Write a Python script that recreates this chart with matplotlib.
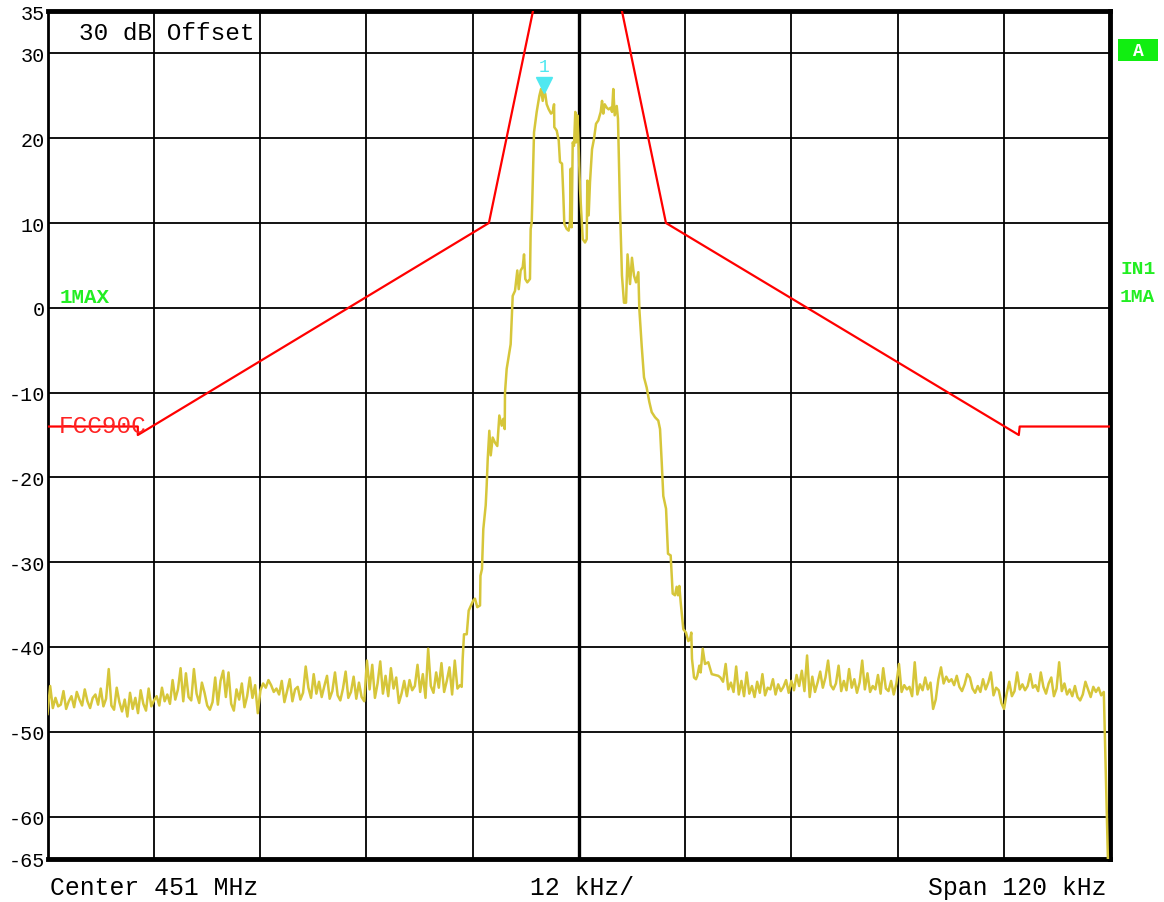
import matplotlib
matplotlib.use("Agg")
import matplotlib.pyplot as plt
from matplotlib.patches import Rectangle
import numpy as np

# spectrum analyzer screen: center 451 MHz, span 120 kHz, 30 dB ref offset
MONO = ["Liberation Mono", "DejaVu Sans Mono"]

# noise floor left of the carrier (-60 .. -13.4 kHz), dB
left_noise_db = [
    -47.9, -44.6, -47.2, -46.0, -47.0, -46.8, -45.2, -47.3, -46.4, -45.8,
    -47.1, -45.3, -46.2, -46.9, -45.0, -46.4, -47.2, -46.0, -45.6, -46.8,
    -44.9, -47.0, -46.1, -42.6, -46.9, -47.4, -44.8, -46.5, -47.6, -46.2,
    -48.2, -45.4, -47.3, -46.0, -47.8, -45.1, -46.7, -47.5, -44.9, -47.0,
    -46.3, -45.8, -46.9, -44.8, -46.4, -45.6, -46.7, -43.9, -46.2, -45.0,
    -42.5, -46.4, -43.1, -45.9, -46.3, -42.6, -45.5, -46.6, -44.2, -45.4,
    -46.9, -47.4, -46.5, -43.6, -46.8, -44.0, -42.8, -45.9, -43.0, -46.7,
    -47.5, -45.0, -46.2, -44.3, -47.1, -45.8, -43.6, -46.0, -44.5, -47.8,
    -45.1, -44.3, -44.8, -43.9, -44.5, -45.3, -44.9, -45.6, -44.0, -46.5,
    -45.2, -43.8, -46.4, -45.0, -44.7, -46.2, -45.4, -42.3, -44.8, -46.0,
    -43.2, -45.5, -44.1, -45.9, -44.6, -43.4, -46.1, -45.2, -43.0, -45.7,
    -46.3, -44.9, -42.9, -46.0, -45.3, -43.5, -46.1, -44.2, -45.9, -46.4,
    -41.6, -45.0, -42.1, -46.0, -44.3, -41.7, -45.5, -43.4, -45.8, -42.5,
    -44.9, -43.6, -46.6, -45.5, -44.0, -45.8, -43.9, -45.1, -44.6, -42.1,
    -45.3, -43.2, -46.0, -40.2, -44.6, -45.4, -43.0, -44.8, -41.9, -45.3,
    -44.0, -42.4, -45.6, -41.6, -44.9, -44.5,
]

# occupied band, read point by point (kHz offset, dB)
signal_khz = [
    -13.22, -13.11, -12.96, -12.65, -12.43, -11.91, -11.72, -11.46, -11.15, -11.10,
    -10.93, -10.78, -10.51, -10.40, -10.28, -10.10, -9.94, -9.72, -9.46, -9.20,
    -8.97, -8.70, -8.52, -8.36, -8.33, -8.14, -7.69, -7.57, -7.46, -7.20,
    -6.94, -6.78, -6.56, -6.33, -6.18, -6.04, -5.81, -5.51, -5.43, -5.31,
    -5.05, -4.75, -4.45, -4.26, -4.07, -3.92, -3.78, -3.62, -3.39, -3.13,
    -2.94, -2.79, -2.76, -2.49, -2.26, -2.12, -1.89, -1.74, -1.63, -1.36,
    -1.14, -0.99, -0.91, -0.80, -0.68, -0.54, -0.39, -0.31, -0.16, -0.05,
    0.14, 0.45, 0.71, 0.90, 0.97, 1.12, 1.27, 1.50, 1.72, 1.95,
    2.21, 2.48, 2.63, 2.77, 2.93, 3.16, 3.38, 3.61, 3.76, 3.90,
    4.06, 4.29, 4.43, 4.66, 4.88, 5.11, 5.34, 5.51, 5.79, 6.01,
    6.24, 6.47, 6.73, 6.84, 7.11, 7.37, 7.67, 7.97, 8.24, 8.61,
    8.98, 9.18, 9.37, 9.55, 9.86, 10.08, 10.38, 10.61, 10.87, 11.06,
    11.21, 11.36, 11.51, 11.81, 12.11, 12.37, 12.57, 12.71, 12.79, 13.02,
    13.24, 13.39, 13.62, 13.77, 14.00, 14.26, 14.63, 15.02, 15.76,
]
signal_db = [
    -44.7, -41.4, -38.5, -38.5, -35.7, -34.5, -34.3, -35.3, -35.1, -31.6,
    -30.8, -26.1, -23.3, -21.0, -17.8, -14.5, -17.4, -15.3, -15.9, -16.3,
    -12.7, -13.9, -13.1, -14.3, -10.0, -7.2, -4.3, -1.3, 1.4, 2.0,
    4.4, 2.2, 4.4, 4.8, 6.3, 3.4, 3.0, 3.4, 9.3, 10.1,
    20.7, 23.1, 25.0, 25.8, 24.4, 25.6, 25.2, 24.0, 23.4, 22.9,
    23.1, 24.0, 21.3, 20.9, 19.7, 17.2, 17.0, 13.2, 9.9, 9.3,
    9.1, 10.1, 16.4, 9.5, 19.5, 19.1, 23.1, 19.5, 22.7, 20.3,
    14.0, 8.1, 7.7, 8.1, 15.0, 10.9, 14.8, 18.7, 19.9, 21.7,
    22.1, 23.1, 24.4, 22.9, 24.0, 23.6, 23.4, 23.6, 23.1, 25.8,
    22.7, 23.8, 22.3, 11.7, 3.8, 0.6, 0.6, 6.3, 2.8, 5.9,
    3.8, 3.0, 4.2, -0.1, -4.5, -8.2, -9.4, -11.1, -12.3, -12.9,
    -13.3, -14.3, -18.2, -22.2, -23.7, -29.0, -29.2, -33.7, -33.9, -32.9,
    -33.9, -32.8, -34.7, -37.9, -38.3, -39.3, -39.1, -38.3, -41.4, -43.6,
    -43.8, -43.4, -42.2, -43.0, -40.2, -42.0, -41.8, -43.2, -43.4,
]

# noise floor right of the carrier (16 .. 59.3 kHz), dB
right_noise_db = [
    -43.6, -44.1, -42.0, -45.0, -44.2, -45.3, -42.3, -45.6, -44.0, -45.8,
    -43.0, -45.5, -44.6, -45.9, -44.1, -45.4, -43.2, -45.7, -44.8, -45.0,
    -43.8, -45.6, -44.4, -45.2, -44.7, -43.9, -45.4,
    -44.0, -45.1, -43.3, -44.6, -42.8, -45.2, -41.0, -45.9, -43.5, -45.3,
    -44.2, -42.9, -44.8, -43.6, -41.6, -44.5, -45.0, -44.3, -42.2, -45.2,
    -44.0, -45.1, -42.6, -44.8, -43.8, -45.4, -44.2, -41.6, -45.0, -43.1,
    -45.3, -44.6, -45.0, -43.3, -45.5, -42.5, -44.9, -45.2, -44.0, -45.6,
    -44.3, -42.0, -45.3, -44.5, -45.0, -44.7, -45.8, -41.8, -45.6, -44.4,
    -45.1, -43.6, -45.0, -44.2, -47.3, -46.2, -43.8, -42.4, -44.3, -43.5,
    -44.1, -43.8, -44.5, -43.4, -44.7, -45.2, -44.4, -43.2, -43.6, -44.9,
    -45.4, -44.6, -45.3, -43.8, -45.0, -44.2, -43.0, -45.7, -44.8, -45.1,
    -46.6, -47.3, -45.5, -44.1, -45.8, -45.2, -43.0, -45.0, -44.4, -45.1,
    -44.6, -43.2, -44.8, -44.5, -45.2, -43.0, -44.7, -45.5, -44.3, -43.6,
    -45.8, -44.9, -41.8, -45.2, -44.3, -45.6, -45.0, -45.8, -44.6, -45.9,
    -46.3, -45.6, -44.1, -45.0, -45.9, -44.7, -45.3, -44.8, -45.7, -45.3,
]

# sweep end falls off the screen
tail_khz = [59.8]
tail_db = [-66.5]

# FCC90C limit line (two halves)
mask_left_khz = [-60.0, -49.8, -49.8, -10.15, -5.17]
mask_left_db = [-14.0, -14.0, -15.0, 10.0, 35.0]
mask_right_khz = [4.88, 9.85, 49.7, 49.8, 60.0]
mask_right_db = [35.0, 10.0, -15.0, -14.0, -14.0]

marker_khz = -3.92

y_ticks = [35, 30, 20, 10, 0, -10, -20, -30, -40, -50, -60, -65]
x_grid = [-48, -36, -24, -12, 0, 12, 24, 36, 48]

TRACE = "#d6c63a"
GREEN = "#22ee22"

left_khz = np.linspace(-60.0, -13.4, len(left_noise_db))
right_khz = np.linspace(16.0, 59.3, len(right_noise_db))
freq = np.concatenate([left_khz, signal_khz, right_khz, tail_khz])
level = np.concatenate([left_noise_db, signal_db, right_noise_db, tail_db])

W, H = 1164, 903
fig = plt.figure(figsize=(W / 100, H / 100), dpi=100)
ax_l, ax_r, ax_t, ax_b = 47.5, 1110, 12, 860
ax = fig.add_axes([ax_l / W, 1 - ax_b / H, (ax_r - ax_l) / W, (ax_b - ax_t) / H])
ax.set_xlim(-60, 60)
ax.set_ylim(-65, 35)

# grid
for g in x_grid:
    ax.axvline(g, color="black", lw=2.4 if g == 0 else 1.3, zorder=1)
for g in y_ticks[1:-1]:
    ax.axhline(g, color="black", lw=1.3, zorder=1)

ax.plot(mask_left_khz, mask_left_db, color="#ff0000", lw=1.6, zorder=3)
ax.plot(mask_right_khz, mask_right_db, color="#ff0000", lw=1.6, zorder=3)
ax.plot(freq, level, color=TRACE, lw=1.8, zorder=4)

# marker 1 on the peak
mk_lvl = np.interp(marker_khz, freq, level)
ax.plot(marker_khz, mk_lvl + 0.7, marker="v", ms=11, color="#4fe8f0",
        mec="#4fe8f0", zorder=5, clip_on=False)
ax.text(marker_khz, mk_lvl + 2.9, "1", color="#4fe8f0", fontsize=13,
        family=MONO, ha="center", va="center", zorder=5)

ax.set_xticks(x_grid)
ax.set_xticklabels([])
ax.set_yticks(y_ticks)
ax.set_yticklabels([str(t) for t in y_ticks], family=MONO, fontsize=14.5)
ax.tick_params(length=0, pad=2)

for side, lw in (("top", 3.5), ("right", 3.5), ("bottom", 3.5), ("left", 2.0)):
    ax.spines[side].set_linewidth(lw)
    ax.spines[side].set_color("black")

# screen annotations
ax.text(0.03, 0.975, "30 dB Offset", transform=ax.transAxes, family=MONO,
        fontsize=17.6, va="center", ha="left")
ax.text(0.011, 0.663, "1MAX", transform=ax.transAxes, family=MONO,
        fontsize=15, fontweight="bold", color=GREEN, va="center")
ax.text(0.011, 0.511, "FCC90C", transform=ax.transAxes, family=MONO,
        fontsize=17.6, color="#ff2222", va="center")

fig.text(50 / W, 1 - 888 / H, "Center 451 MHz", family=MONO, fontsize=17.8,
         va="center", ha="left")
fig.text(582 / W, 1 - 888 / H, "12 kHz/", family=MONO, fontsize=17.8,
         va="center", ha="center")
fig.text(1107 / W, 1 - 888 / H, "Span 120 kHz", family=MONO, fontsize=17.8,
         va="center", ha="right")

# "A" trace-status box on the right edge
fig.patches.append(Rectangle((1118 / W, 1 - 62 / H), 40 / W, 22 / H,
                             transform=fig.transFigure, fc="#11ee11", ec="none"))
fig.text(1138 / W, 1 - 51 / H, "A", family=MONO, fontsize=13,
         fontweight="bold", color="white", ha="center", va="center")
fig.text(1120 / W, 1 - 270 / H, "IN1", family=MONO, fontsize=14,
         fontweight="bold", color=GREEN, va="center")
fig.text(1120 / W, 1 - 298 / H, "1MA", family=MONO, fontsize=14,
         fontweight="bold", color=GREEN, va="center")

fig.savefig("out.png", dpi=100, facecolor="white")
